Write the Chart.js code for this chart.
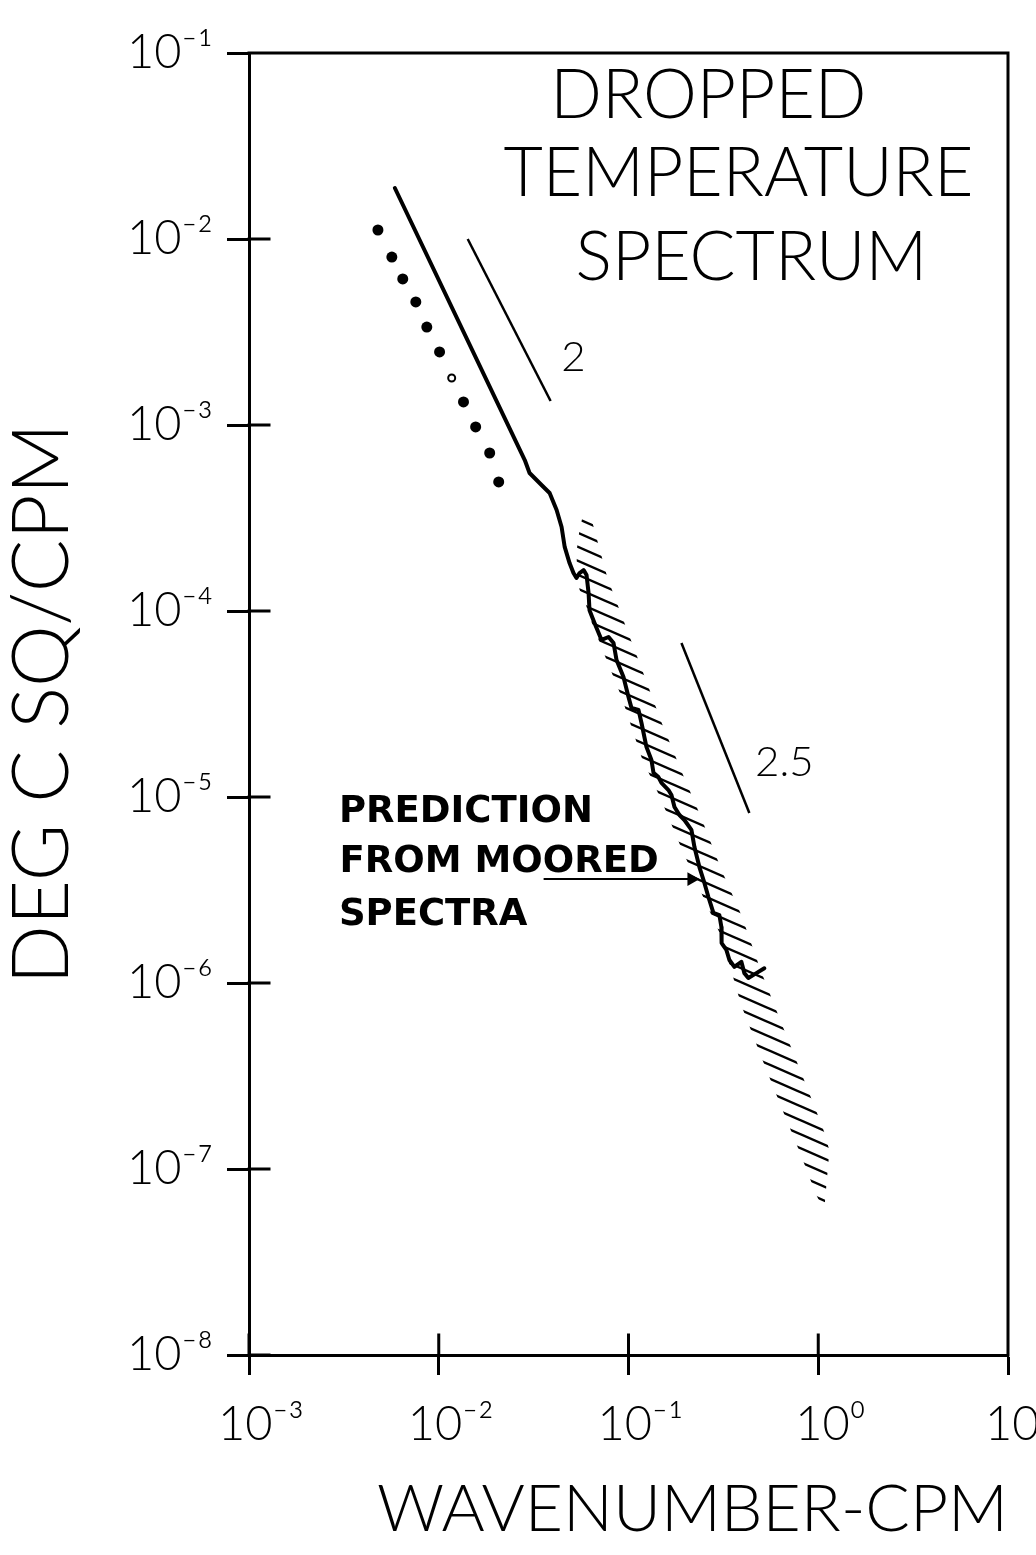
<!DOCTYPE html>
<html>
<head>
<meta charset="utf-8">
<script src="https://cdn.jsdelivr.net/npm/chart.js@4.4.1/dist/chart.umd.min.js"></script>
<style>
  html, body { margin: 0; padding: 0; background: #ffffff; }
  #wrap { width: 1036px; height: 1555px; }
</style>
</head>
<body>
<div id="wrap"><canvas id="c" width="1036" height="1555"></canvas></div>
<script>
// ---------------- data ----------------
// dropped temperature spectrum (solid line): wavenumber (cpm) and spectral level (deg C^2/cpm)
const spectrumK = [0.00587, 0.0284, 0.0301, 0.0348, 0.0384, 0.0418, 0.0444, 0.0461, 0.0489, 0.0513,
  0.0532, 0.0552, 0.0580, 0.0601, 0.0616, 0.0623, 0.0662, 0.0721, 0.0785, 0.0834,
  0.0865, 0.0941, 0.100, 0.1037, 0.1129, 0.1171, 0.1243, 0.1321, 0.1354, 0.1438,
  0.1492, 0.1624, 0.1684, 0.1747, 0.1856, 0.1971, 0.2146, 0.2226, 0.2364, 0.2512,
  0.2637, 0.2802, 0.3012, 0.3087, 0.3095, 0.3280, 0.3402, 0.3614, 0.3934, 0.4080,
  0.4282, 0.4719, 0.5198];
const spectrumS = [1.88e-2, 6.48e-4, 5.52e-4, 4.76e-4, 4.31e-4, 3.49e-4, 2.83e-4, 2.21e-4, 1.81e-4, 1.60e-4,
  1.505e-4, 1.60e-4, 1.66e-4, 1.56e-4, 1.25e-4, 1.01e-4, 8.62e-5, 6.99e-5, 7.25e-5, 6.73e-5,
  5.45e-5, 4.42e-5, 3.45e-5, 3.01e-5, 2.94e-5, 2.50e-5, 1.86e-5, 1.58e-5, 1.35e-5, 1.28e-5,
  1.19e-5, 1.09e-5, 1.025e-5, 8.84e-6, 8.00e-6, 7.52e-6, 6.65e-6, 5.38e-6, 4.20e-6, 3.45e-6,
  2.90e-6, 2.38e-6, 2.32e-6, 2.00e-6, 1.64e-6, 1.505e-6, 1.33e-6, 1.22e-6, 1.30e-6, 1.13e-6,
  1.064e-6, 1.13e-6, 1.20e-6];

// dotted series
const dotsK = [0.00478, 0.00566, 0.00646, 0.00757, 0.00865, 0.0101, 0.0117, 0.0135, 0.01565, 0.01855, 0.0207];
const dotsS = [1.118e-2, 8.00e-3, 6.10e-3, 4.59e-3, 3.36e-3, 2.47e-3, 1.79e-3, 1.33e-3, 9.76e-4, 7.07e-4, 4.94e-4];

// prediction from moored spectra (hatched band): upper and lower bounds
const bandK    = [0.0532, 0.0552, 0.0580, 0.0639, 0.0775, 0.0919, 0.117, 0.149, 0.190, 0.242, 0.309, 0.393, 0.501, 0.639, 0.814, 0.976, 1.075, 1.143];
const bandHigh = [2.08e-4, 2.73e-4, 3.40e-4, 3.10e-4, 1.505e-4, 9.5e-5, 4.94e-5, 2.53e-5, 1.38e-5, 7.7e-6, 4.05e-6, 2.32e-6, 1.146e-6, 6.09e-7, 3.28e-7, 2.05e-7, 1.58e-7, 1.265e-7];
const bandLow  = [1.745e-4, 1.30e-4, 1.18e-4, 8.7e-5, 5.3e-5, 3.45e-5, 1.64e-5, 9.6e-6, 5.3e-6, 3.05e-6, 1.77e-6, 7.6e-7, 4.0e-7, 2.15e-7, 1.175e-7, 7.25e-8, 6.0e-8, 1.23e-7];

// reference slope segments
const slope2K  = [0.01421, 0.03886];
const slope2S  = [1.0e-2, 1.346e-3];
const slope25K = [0.1901, 0.4334];
const slope25S = [6.73e-5, 8.20e-6];

// annotation arrow
const arrowK = [0.0357, 0.2146];
const arrowS = [3.62e-6, 3.62e-6];

// axes
const xTicks = [1e-3, 1e-2, 1e-1, 1, 10];
const xTickLabels = ['10⁻³', '10⁻²', '10⁻¹', '10⁰', '10¹'];
const yTicks = [1e-8, 1e-7, 1e-6, 1e-5, 1e-4, 1e-3, 1e-2, 1e-1];
const yTickLabels = ['10⁻⁸', '10⁻⁷', '10⁻⁶', '10⁻⁵', '10⁻⁴', '10⁻³', '10⁻²', '10⁻¹'];
const xTitle = 'WAVENUMBER-CPM';
const yTitle = 'DEG C SQ/CPM';

// texts
const titleLines = ['DROPPED', 'TEMPERATURE', 'SPECTRUM'];
const titleK = [0.2637, 0.3793, 0.4441];
const titleS = [0.0587, 0.02236, 7.90e-3];
const noteLines = ['PREDICTION', 'FROM MOORED', 'SPECTRA'];
const noteK = [2.977e-3, 3.0e-3, 2.977e-3];
const noteS = [8.31e-6, 4.47e-6, 2.32e-6];
const slopeLabels = ['2', '2.5'];
const slopeLabelK = [0.0513, 0.6626];
const slopeLabelS = [2.32e-3, 1.542e-5];

// ---------------- styling helpers ----------------
const FONT = 'Lato, "Liberation Sans", "DejaVu Sans", sans-serif';
const HOLLOW_DOT = 6;
const pts = (xs, ys) => xs.map((x, i) => ({ x: x, y: ys[i] }));

function hatchPattern() {
  const w = 32, h = 14;
  const c = document.createElement('canvas');
  c.width = w; c.height = h;
  const g = c.getContext('2d');
  g.strokeStyle = '#000';
  g.lineWidth = 2.4;
  for (const dy of [-h, 0, h]) {
    g.beginPath();
    g.moveTo(-2, dy - 2 * h / w);
    g.lineTo(w + 2, dy + h + 2 * h / w);
    g.stroke();
  }
  return g.createPattern(c, 'repeat');
}

const frameAndTicks = {
  id: 'frameAndTicks',
  afterDraw(chart, args, o) {
    const { ctx, chartArea: a, scales } = chart;
    const x = scales.x, y = scales.y;
    ctx.save();
    ctx.strokeStyle = '#000';
    ctx.lineWidth = o.width;
    ctx.lineCap = 'square';
    ctx.beginPath();
    ctx.moveTo(a.left, a.top);
    ctx.lineTo(a.right, a.top);
    ctx.lineTo(a.right, a.bottom);
    x.ticks.forEach(t => {
      const p = x.getPixelForValue(t.value);
      ctx.moveTo(p, a.bottom);
      ctx.lineTo(p, a.bottom - o.inner);
    });
    y.ticks.forEach(t => {
      const p = y.getPixelForValue(t.value);
      ctx.moveTo(a.left, p);
      ctx.lineTo(a.left + o.inner, p);
    });
    ctx.stroke();
    ctx.restore();
  }
};

const notes = {
  id: 'notes',
  afterDatasetsDraw(chart, args, o) {
    const { ctx, scales } = chart;
    o.groups.forEach(gr => {
      gr.texts.forEach((t, i) => {
        const px = scales.x.getPixelForValue(gr.xs[i]);
        const py = scales.y.getPixelForValue(gr.ys[i]);
        ctx.save();
        ctx.font = gr.font;
        ctx.fillStyle = '#000';
        ctx.textAlign = gr.align;
        ctx.textBaseline = 'middle';
        ctx.translate(px, py);
        ctx.scale(gr.sx || 1, 1);
        ctx.fillText(t, 0, 0);
        ctx.restore();
      });
    });
  }
};

const tickFont = { family: FONT, size: 47, weight: '300' };

new Chart(document.getElementById('c'), {
  type: 'line',
  data: {
    datasets: [
      { label: 'Prediction (upper)', data: pts(bandK, bandHigh), borderWidth: 0, borderColor: 'rgba(0,0,0,0)',
        pointRadius: 0, fill: '+1', backgroundColor: hatchPattern() },
      { label: 'Prediction (lower)', data: pts(bandK, bandLow), borderWidth: 0, borderColor: 'rgba(0,0,0,0)',
        pointRadius: 0, fill: false },
      { label: 'Dropped spectrum', data: pts(spectrumK, spectrumS), borderColor: '#000', borderWidth: 4,
        pointRadius: 0, fill: false, tension: 0, borderJoinStyle: 'round', borderCapStyle: 'round' },
      { label: 'Dotted', data: pts(dotsK, dotsS), showLine: false,
        pointRadius: c => c.dataIndex === HOLLOW_DOT ? 3.5 : 5.5,
        pointBackgroundColor: c => c.dataIndex === HOLLOW_DOT ? '#fff' : '#000',
        pointBorderColor: '#000',
        pointBorderWidth: c => c.dataIndex === HOLLOW_DOT ? 2 : 0 },
      { label: 'Slope 2', data: pts(slope2K, slope2S), borderColor: '#000', borderWidth: 2.5, pointRadius: 0, fill: false },
      { label: 'Slope 2.5', data: pts(slope25K, slope25S), borderColor: '#000', borderWidth: 2.5, pointRadius: 0, fill: false },
      { label: 'Arrow', data: pts(arrowK, arrowS), borderColor: '#000', borderWidth: 2,
        pointRadius: c => c.dataIndex === 1 ? 6 : 0, pointStyle: 'triangle', pointRotation: 90,
        pointBackgroundColor: '#000', pointBorderColor: '#000', fill: false }
    ]
  },
  options: {
    responsive: false,
    animation: false,
    devicePixelRatio: 1,
    layout: { padding: { top: 53, right: 28, left: 0, bottom: 0 } },
    plugins: {
      legend: { display: false },
      tooltip: { enabled: false },
      filler: { drawTime: 'beforeDatasetsDraw' },
      frameAndTicks: { width: 3, inner: 20 },
      notes: {
        groups: [
          { texts: titleLines, xs: titleK, ys: titleS, font: '300 68px ' + FONT, align: 'center', sx: 1 },
          { texts: noteLines, xs: noteK, ys: noteS, font: 'bold 37px "DejaVu Sans", sans-serif', align: 'left', sx: 1 },
          { texts: slopeLabels, xs: slopeLabelK, ys: slopeLabelS, font: '300 42px ' + FONT, align: 'center', sx: 1 }
        ]
      }
    },
    scales: {
      x: {
        type: 'logarithmic', min: 1e-3, max: 10, position: 'bottom',
        afterBuildTicks: s => { s.ticks = xTicks.map(v => ({ value: v })); },
        afterFit: s => { s.height = 200; s.paddingLeft = 0; s.paddingRight = 0; },
        ticks: { callback: (v, i) => xTickLabels[i], autoSkip: false, maxRotation: 0, minRotation: 0,
                 padding: 22, labelOffset: 12, font: tickFont, color: '#000' },
        grid: { display: true, drawOnChartArea: false, drawTicks: true, tickLength: 20, tickWidth: 3, tickColor: '#000' },
        border: { display: true, color: '#000', width: 3 },
        title: { display: true, text: xTitle, align: 'end', color: '#000',
                 font: { family: FONT, size: 66, weight: '300', lineHeight: 1 }, padding: { top: 0, bottom: 12 } }
      },
      y: {
        type: 'logarithmic', min: 1e-8, max: 1e-1, position: 'left',
        afterBuildTicks: s => { s.ticks = yTicks.map(v => ({ value: v })); },
        afterFit: s => { s.width = 249; s.paddingTop = 0; s.paddingBottom = 0; },
        ticks: { callback: (v, i) => yTickLabels[i], autoSkip: false, padding: 14, labelOffset: 0,
                 font: tickFont, color: '#000' },
        grid: { display: true, drawOnChartArea: false, drawTicks: true, tickLength: 22, tickWidth: 3, tickColor: '#000' },
        border: { display: true, color: '#000', width: 3 },
        title: { display: true, text: yTitle, color: '#000',
                 font: { family: FONT, size: 78, weight: '300', lineHeight: 1 }, padding: { top: 4, bottom: 0 } }
      }
    }
  },
  plugins: [frameAndTicks, notes]
});
</script>
</body>
</html>
